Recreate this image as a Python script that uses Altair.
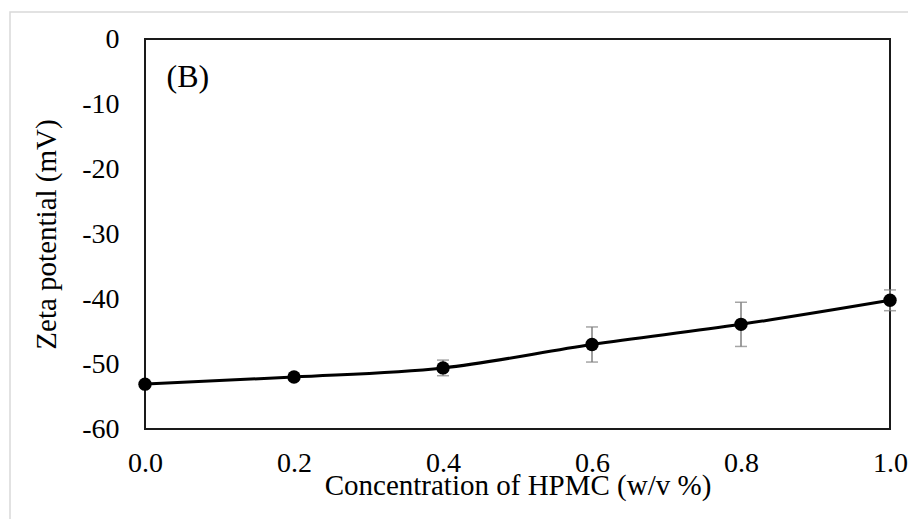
import altair as alt
import pandas as pd

conc = [0.0, 0.2, 0.4, 0.6, 0.8, 1.0]
zeta = [-53.1, -52.0, -50.6, -47.0, -43.9, -40.2]
err = [0.3, 0.3, 1.2, 2.7, 3.4, 1.6]

df = pd.DataFrame({"conc": conc, "zeta": zeta, "err": err})
df["lo"] = df["zeta"] - df["err"]
df["hi"] = df["zeta"] + df["err"]

FONT = "Liberation Serif"

x_enc = alt.X("conc:Q", scale=alt.Scale(domain=[0, 1], nice=False),
              axis=alt.Axis(title="Concentration of HPMC (w/v %)", values=[0, 0.2, 0.4, 0.6, 0.8, 1.0],
                            format=".1f", grid=False, ticks=False, domain=False, labelFlush=False,
                            labelPadding=20, titlePadding=-6))
y_enc = alt.Y("zeta:Q", scale=alt.Scale(domain=[-60, 0], nice=False),
              axis=alt.Axis(title="Zeta potential (mV)", values=[0, -10, -20, -30, -40, -50, -60],
                            labelExpr="'' + datum.value", grid=False, ticks=False, labelFlush=False,
                            domain=False, labelPadding=26, titlePadding=20))

base = alt.Chart(df)

frame = alt.Chart(alt.Data(values=[{}])).mark_rect(
    fill="white", fillOpacity=0, stroke="#d9d9d9", strokeWidth=1.5
).encode(x=alt.value(-135), x2=alt.value(900), y=alt.value(-27), y2=alt.value(600))

rules = base.mark_rule(color="#7f7f7f", strokeWidth=1.5).encode(
    x=x_enc, y=alt.Y("lo:Q"), y2="hi:Q")
caps_lo = base.mark_tick(color="#7f7f7f", orient="horizontal", size=12, thickness=1.5).encode(
    x=x_enc, y=alt.Y("lo:Q"))
caps_hi = base.mark_tick(color="#7f7f7f", orient="horizontal", size=12, thickness=1.5).encode(
    x=x_enc, y=alt.Y("hi:Q"))

line = base.mark_line(color="black", strokeWidth=3, interpolate="monotone").encode(x=x_enc, y=y_enc)
pts = base.mark_circle(color="black", size=180, opacity=1).encode(x=x_enc, y=y_enc)

label_df = pd.DataFrame({"conc": [0.029], "zeta": [-5.85], "t": ["(B)"]})
label = alt.Chart(label_df).mark_text(
    align="left", baseline="middle", font=FONT, fontSize=32, color="black"
).encode(x="conc:Q", y="zeta:Q", text="t:N")

chart = alt.layer(frame, line, rules, caps_lo, caps_hi, pts, label).properties(
    width=745, height=390,
    autosize=alt.AutoSizeParams(type="none"),
    padding={"left": 137, "top": 31, "right": 18, "bottom": 90},
    background="white",
).configure_view(
    stroke="#1a1a1a", strokeWidth=2
).configure_axis(
    labelFont=FONT, titleFont=FONT, labelFontSize=28, titleFontSize=29,
    labelColor="black", titleColor="black", titleFontWeight="normal"
)

chart.save("out.html", embed_options={"renderer": "svg", "actions": False})
